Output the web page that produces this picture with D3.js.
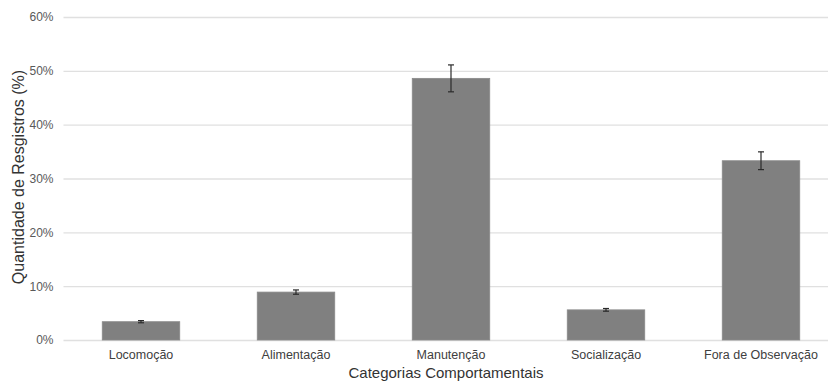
<!DOCTYPE html>
<html>
<head>
<meta charset="utf-8">
<script src="https://cdn.jsdelivr.net/npm/d3@7"></script>
<style>
  body { margin: 0; background: #fff; }
  svg { display: block; font-family: "Liberation Sans", Arial, sans-serif; }
</style>
</head>
<body>
<svg id="chart" width="828" height="383"></svg>
<script>
const categories = ["Locomoção", "Alimentação", "Manutenção", "Socialização", "Fora de Observação"];
const values = [3.4, 8.9, 48.6, 5.6, 33.3];
const errors = [0.2, 0.4, 2.5, 0.25, 1.65];
const yTicks = [0, 10, 20, 30, 40, 50, 60];
const xTitle = "Categorias Comportamentais";
const yTitle = "Quantidade de Resgistros (%)";

const svg = d3.select("#chart");
const mLeft = 63.5, mRight = 838.5, mTop = 17, mBottom = 340;

const x = d3.scaleBand().domain(categories).range([mLeft, mRight]).paddingInner(0.5).paddingOuter(0.25);
const y = d3.scaleLinear().domain([0, 60]).range([mBottom, mTop]);

// gridlines
const yAxis = d3.axisLeft(y).tickValues(yTicks).tickFormat(d => d + "%").tickSize(0).tickPadding(10);
const gy = svg.append("g").attr("transform", `translate(${mLeft},0)`).call(yAxis);
gy.select(".domain").remove();
gy.selectAll(".tick text").attr("fill", "#595959").style("font-size", "12px");
gy.selectAll(".tick").append("line")
  .attr("x1", 0).attr("x2", 828 - mLeft)
  .attr("stroke", "#e0e0e0").attr("stroke-width", 1.3);

// bars
svg.append("g").selectAll("rect").data(categories).join("rect")
  .attr("x", d => x(d))
  .attr("y", (d, i) => y(values[i]))
  .attr("width", x.bandwidth())
  .attr("height", (d, i) => y(0) - y(values[i]))
  .attr("fill", "#808080")
  .attr("stroke", "#8a8a8a").attr("stroke-width", 0.8);

// error bars
const eg = svg.append("g").attr("stroke", "#2a2a2a").attr("stroke-width", 1.2);
categories.forEach((c, i) => {
  const cx = x(c) + x.bandwidth() / 2;
  const y1 = y(values[i] + errors[i]), y2 = y(values[i] - errors[i]);
  eg.append("line").attr("x1", cx).attr("x2", cx).attr("y1", y1).attr("y2", y2);
  eg.append("line").attr("x1", cx - 3).attr("x2", cx + 3).attr("y1", y1).attr("y2", y1);
  eg.append("line").attr("x1", cx - 3).attr("x2", cx + 3).attr("y1", y2).attr("y2", y2);
});

// x axis labels
const xAxis = d3.axisBottom(x).tickSize(0).tickPadding(10);
const gx = svg.append("g").attr("transform", `translate(0,${mBottom})`).call(xAxis);
gx.select(".domain").remove();
gx.selectAll(".tick text").attr("fill", "#404040").style("font-size", "12.5px");

// axis titles
svg.append("text").attr("x", 446).attr("y", 378).attr("text-anchor", "middle")
  .attr("fill", "#333").style("font-size", "15px").text(xTitle);
svg.append("text").attr("transform", "translate(24,177) rotate(-90)").attr("text-anchor", "middle")
  .attr("fill", "#333").style("font-size", "16px").text(yTitle);
</script>
</body>
</html>
